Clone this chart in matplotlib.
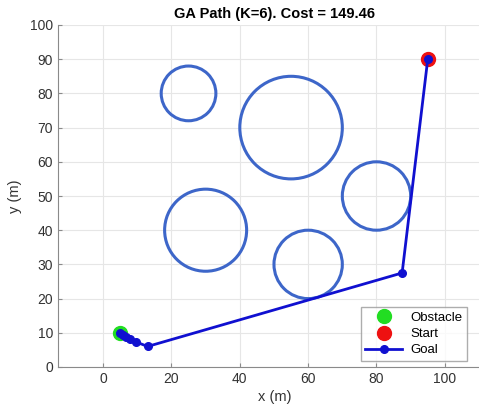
import matplotlib.pyplot as plt
from matplotlib.patches import Circle

# obstacles: centre x, centre y, radius
obs_x = [25, 55, 80, 30, 60]
obs_y = [80, 70, 50, 40, 30]
obs_r = [8, 15, 10, 12, 10]

# GA path from start to goal (K=6 waypoints in between)
path_x = [95, 87.5, 13.0, 9.5, 7.8, 6.6, 5.7, 5]
path_y = [90, 27.5, 6.0, 7.4, 8.2, 8.9, 9.5, 10]
start = (95, 90)
goal = (5, 10)
cost = 149.46
K = 6

plt.rcParams['font.family'] = ['Liberation Sans', 'DejaVu Sans']

fig = plt.figure(figsize=(4.79, 4.07), dpi=100)
# axes runs past the right edge of the figure
ax = fig.add_axes([58 / 479, 40 / 407, 434 / 479, 342 / 407])

for cx, cy, r in zip(obs_x, obs_y, obs_r):
    ax.add_patch(Circle((cx, cy), r, fill=False, edgecolor='#3d66c9', lw=2.2, zorder=2))

h1, = ax.plot(goal[0], goal[1], 'o', color='#22dd22', ms=10, zorder=3)
h2, = ax.plot(start[0], start[1], 'o', color='#ee1111', ms=10, zorder=3)
h3, = ax.plot(path_x, path_y, '-o', color='#1010d0', lw=2, ms=5.5, zorder=4)

ax.set_xlim(-13.2, 113.8)
ax.set_ylim(0, 100)
ax.set_xticks(range(0, 101, 20))
ax.set_yticks(range(0, 101, 10))
ax.grid(True, color='#e6e6e6', lw=0.8)
ax.set_axisbelow(True)
for s in ['top', 'right']:
    ax.spines[s].set_visible(False)
for s in ['left', 'bottom']:
    ax.spines[s].set_color('#8a8a8a')
    ax.spines[s].set_linewidth(0.8)
ax.tick_params(direction='in', length=3, color='#8a8a8a', labelcolor='#333333', labelsize=10)
ax.set_xlabel('x (m)', fontsize=10.5, color='#333333', labelpad=3)
ax.set_ylabel('y (m)', fontsize=10.5, color='#333333', labelpad=6)
ax.set_title(f'GA Path (K={K}). Cost = {cost:.2f}', fontsize=10.5, fontweight='bold', pad=5)

ax.legend([h1, h2, h3], ['Obstacle', 'Start', 'Goal'],
          loc='lower right', bbox_to_anchor=((467 - 58) / 434, 6 / 342), borderaxespad=0,
          fontsize=9.5, frameon=True, fancybox=False, edgecolor='#999999',
          borderpad=0.35, labelspacing=0.3, handlelength=2.8, handletextpad=0.6)

fig.savefig('out.png', dpi=100)
